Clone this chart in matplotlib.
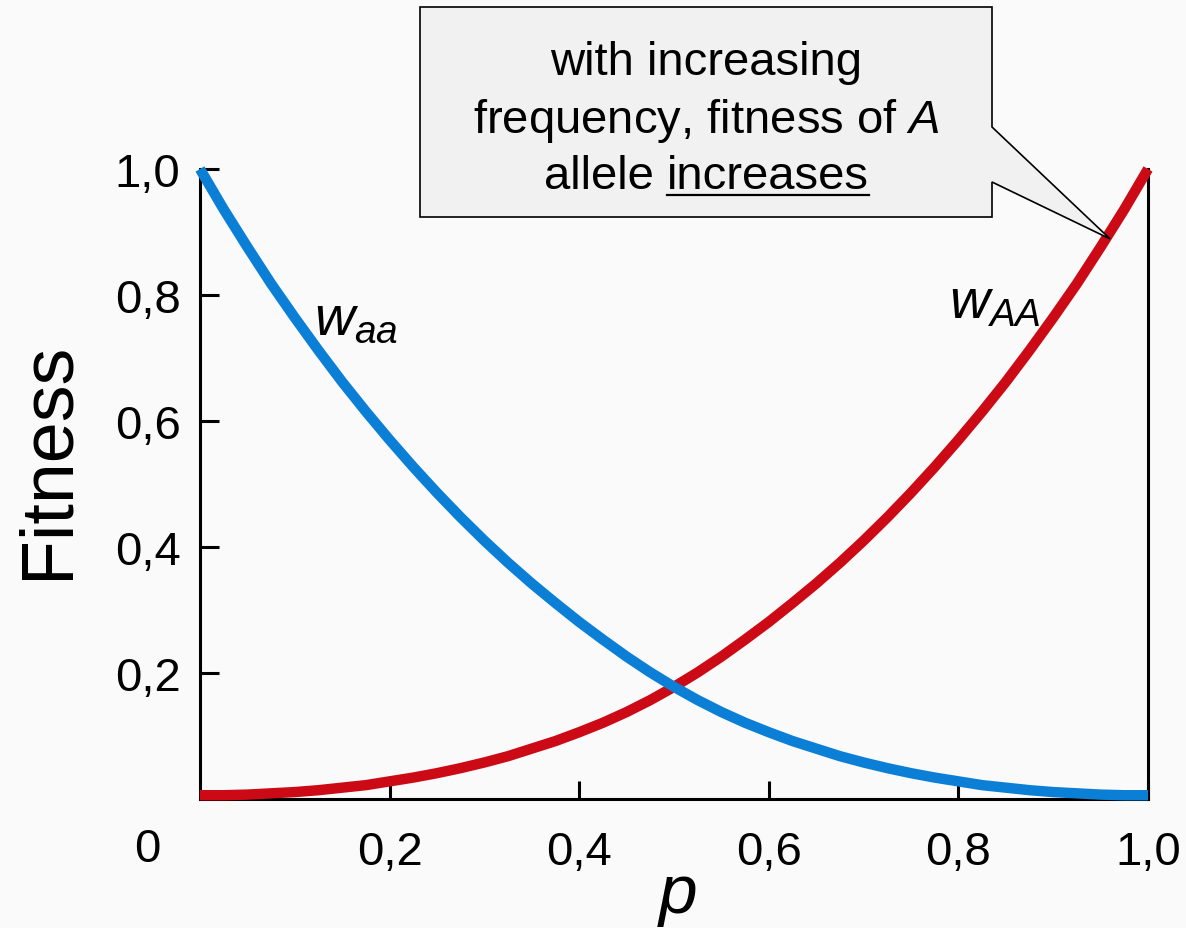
import matplotlib
matplotlib.use('Agg')
import matplotlib.pyplot as plt
from matplotlib.patches import Polygon
from matplotlib.lines import Line2D

plt.rcParams['font.family'] = ['Liberation Sans', 'DejaVu Sans']
plt.rcParams['mathtext.fontset'] = 'custom'
plt.rcParams['mathtext.rm'] = 'Liberation Sans'
plt.rcParams['mathtext.it'] = 'Liberation Sans:italic'

# ---- data ----
p = [0.000, 0.025, 0.050, 0.075, 0.100, 0.125, 0.150, 0.175, 0.200, 0.225,
     0.250, 0.275, 0.300, 0.325, 0.350, 0.375, 0.400, 0.425, 0.450, 0.475,
     0.500, 0.525, 0.550, 0.575, 0.600, 0.625, 0.650, 0.675, 0.700, 0.725,
     0.750, 0.775, 0.800, 0.825, 0.850, 0.875, 0.900, 0.925, 0.950, 0.975, 1.000]
w_aa = [1.000, 0.936, 0.876, 0.818, 0.764, 0.712, 0.662, 0.615, 0.570, 0.527,
        0.486, 0.447, 0.410, 0.375, 0.342, 0.311, 0.281, 0.253, 0.226, 0.201,
        0.178, 0.157, 0.138, 0.121, 0.106, 0.092, 0.080, 0.068, 0.058, 0.049,
        0.041, 0.034, 0.028, 0.022, 0.018, 0.014, 0.011, 0.009, 0.007, 0.006, 0.006]
w_AA = [0.006, 0.006, 0.007, 0.009, 0.011, 0.014, 0.018, 0.022, 0.028, 0.034,
        0.041, 0.049, 0.058, 0.068, 0.080, 0.092, 0.106, 0.121, 0.138, 0.157,
        0.178, 0.201, 0.226, 0.253, 0.281, 0.311, 0.342, 0.375, 0.410, 0.447,
        0.486, 0.527, 0.570, 0.615, 0.662, 0.712, 0.764, 0.818, 0.876, 0.936, 1.000]
xticks = [0.2, 0.4, 0.6, 0.8, 1.0]
xtick_labels = ['0,2', '0,4', '0,6', '0,8', '1,0']
yticks = [0.2, 0.4, 0.6, 0.8, 1.0]
ytick_labels = ['0,2', '0,4', '0,6', '0,8', '1,0']
callout_lines = ['with increasing', r'frequency, fitness of $\mathit{A}$', 'allele', 'increases']
callout_tip = (0.96, 0.889)

W, H = 1186, 929
BLUE = '#0b7fd6'
RED = '#cc0a16'
BG = '#fafafa'

fig = plt.figure(figsize=(W / 100, H / 100), dpi=100, facecolor=BG)
ax = fig.add_axes([200 / W, 1 - 800 / H, 948 / W, 630 / H])
ax.set_facecolor(BG)

ax.plot(p, w_AA, color=RED, lw=7.5, clip_on=False, solid_capstyle='butt', zorder=3)
ax.plot(p, w_aa, color=BLUE, lw=7.5, clip_on=False, solid_capstyle='butt', zorder=4)

ax.set_xlim(0, 1)
ax.set_ylim(0, 1)
ax.spines['top'].set_visible(False)
for s in ['left', 'bottom', 'right']:
    ax.spines[s].set_linewidth(2.2)
    ax.spines[s].set_color('black')
    ax.spines[s].set_zorder(2)

ax.set_xticks(xticks, xtick_labels)
ax.set_yticks(yticks, ytick_labels)
ax.tick_params(axis='both', direction='in', width=2.2, colors='black', labelsize=34)
ax.tick_params(axis='y', length=14, pad=14)
ax.tick_params(axis='x', length=13, pad=22)

# origin label
fig.text(147 / W, 1 - 850 / H, '0', fontsize=34, ha='center', va='center')

# axis labels
fig.text(48 / W, 1 - 460 / H, 'Fitness', fontsize=53, rotation=90, ha='center', va='center')
fig.text(678 / W, 1 - 895 / H, 'p', fontsize=50, style='italic', ha='center', va='center')

# curve labels
ax.text(0.12, 0.738, r'$w_{aa}$', fontsize=40, ha='left', va='baseline')
ax.text(0.79, 0.765, r'$w_{AA}$', fontsize=40, ha='left', va='baseline')

# callout box with pointer
fig.canvas.draw()
tip_disp = ax.transData.transform(callout_tip)
tip_fig = fig.transFigure.inverted().transform(tip_disp)
def fp(x, y):
    return (x / W, 1 - y / H)
pts = [fp(420, 8), fp(992, 8), fp(992, 128), tuple(tip_fig), fp(992, 183), fp(992, 218), fp(420, 218)]
poly = Polygon(pts, closed=True, transform=fig.transFigure, facecolor='#f1f1f1',
               edgecolor='black', lw=1.2, zorder=10)
fig.add_artist(poly)

cx = 706
fs = 34
fig.text(cx / W, 1 - 75 / H, callout_lines[0], fontsize=fs, ha='center', va='baseline', zorder=11)
fig.text(cx / W, 1 - 133 / H, callout_lines[1], fontsize=fs, ha='center', va='baseline', zorder=11)

r = fig.canvas.get_renderer()
t1 = fig.text(0, 1 - 189 / H, callout_lines[2] + ' ', fontsize=fs, ha='left', va='baseline', zorder=11)
t2 = fig.text(0, 1 - 189 / H, callout_lines[3], fontsize=fs, ha='left', va='baseline', zorder=11)
w1 = t1.get_window_extent(r).width
w2 = t2.get_window_extent(r).width
x0 = cx - (w1 + w2) / 2
t1.set_x(x0 / W)
t2.set_x((x0 + w1) / W)
ul = Line2D([(x0 + w1) / W, (x0 + w1 + w2) / W], [1 - 196 / H, 1 - 196 / H],
            transform=fig.transFigure, color='black', lw=1.6, zorder=11)
fig.add_artist(ul)

fig.savefig('out.png', dpi=100, facecolor=BG)
